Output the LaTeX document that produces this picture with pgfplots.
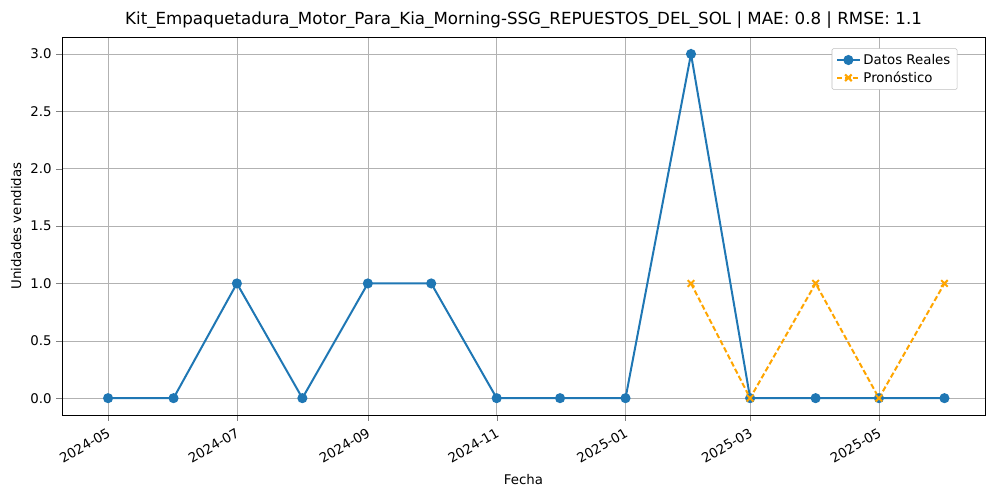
\documentclass[border=0pt]{standalone}
\usepackage{fontspec}
\setmainfont{DejaVu Sans}
\usepackage{pgfplots}
\pgfplotsset{compat=1.18}
\definecolor{mblue}{HTML}{1F77B4}
\definecolor{morange}{HTML}{FFA500}
\begin{document}
\begin{tikzpicture}
\begin{axis}[name=ax, scale only axis, width=692pt, height=283.5pt,
  xmin=-21.8, xmax=415.2, ymin=-0.148, ymax=3.148,
  /pgf/number format/assume math mode=true,
  xtick={0,61,123,184,245,304,365},
  xticklabels={2024-05,2024-07,2024-09,2024-11,2025-01,2025-03,2025-05},
  x tick label style={rotate=30, anchor=north east, font=\fontsize{10}{12}\selectfont},
  ytick={0,0.5,1,1.5,2,2.5,3},
  yticklabels={0.0,0.5,1.0,1.5,2.0,2.5,3.0},
  y tick label style={font=\fontsize{10}{12}\selectfont},
  grid=major, grid style={gray!60},
  tick align=outside, tick pos=left,
  xlabel={Fecha}, ylabel={Unidades vendidas},
  label style={font=\fontsize{10}{12}\selectfont},
  title={Kit\_Empaquetadura\_Motor\_Para\_Kia\_Morning-SSG\_REPUESTOS\_DEL\_SOL | MAE: 0.8 | RMSE: 1.1},
  title style={font=\fontsize{12.5}{14}\selectfont, yshift=-3pt},
  legend pos=north east, legend cell align=left,
  legend style={font=\fontsize{10}{12}\selectfont, draw=gray!50, rounded corners=1pt},
]
\addplot[mblue, line width=1.5pt, mark=*, mark size=3pt] coordinates {
(0,0)(31,0)(61,1)(92,0)(123,1)(153,1)(184,0)(214,0)(245,0)(276,3)(304,0)(335,0)(365,0)(396,0)};
\addlegendentry{Datos Reales}
\addplot[morange, line width=1.5pt, dash pattern=on 4pt off 2pt, mark=x, mark size=3.5pt, mark options={solid}] coordinates {
(276,1)(304,0)(335,1)(365,0)(396,1)};
\addlegendentry{Pronóstico}
\end{axis}
\path[use as bounding box] ([xshift=-46.5pt,yshift=-63.75pt]ax.south west) rectangle ([xshift=11.25pt,yshift=27.75pt]ax.north east);
\end{tikzpicture}
\end{document}
